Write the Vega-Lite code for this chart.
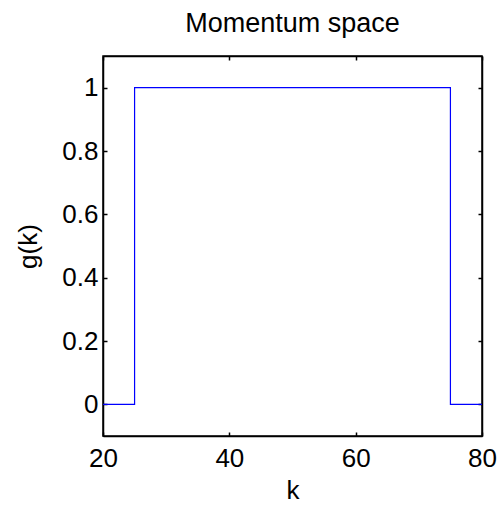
{
  "$schema": "https://vega.github.io/schema/vega-lite/v6.json",
  "width": 379,
  "height": 380,
  "autosize": "none",
  "padding": {"left": 103, "top": 56, "right": 19, "bottom": 71},
  "background": "white",
  "title": {"text": "Momentum space", "fontSize": 27, "font": "Liberation Sans", "fontWeight": "normal", "color": "#000000", "offset": 17},
  "config": {
    "view": {"stroke": "#000000", "strokeWidth": 1.5},
    "axis": {"grid": false, "domainColor": "#000000", "tickColor": "#000000", "labelFont": "Liberation Sans", "labelFontSize": 26, "labelColor": "#000000", "labelFlush": false, "labelOverlap": false, "titleFont": "Liberation Sans", "titleFontSize": 26, "titleFontWeight": "normal", "titleColor": "#000000", "tickSize": -4, "tickWidth": 1.5, "domainWidth": 1.5}
  },
  "data": {"values": [
    {"i": 0, "k": 20, "g": 0},
    {"i": 1, "k": 25, "g": 0},
    {"i": 2, "k": 25, "g": 1},
    {"i": 3, "k": 75, "g": 1},
    {"i": 4, "k": 75, "g": 0},
    {"i": 5, "k": 80, "g": 0}
  ]},
  "layer": [
    {
      "mark": {"type": "line", "color": "#0000ff", "strokeWidth": 1.2, "clip": true},
      "encoding": {
        "x": {"field": "k", "type": "quantitative", "scale": {"domain": [20, 80], "nice": false, "zero": false}, "axis": {"values": [20, 40, 60, 80], "format": "d", "title": "k", "labelPadding": 13, "titlePadding": 6}},
        "y": {"field": "g", "type": "quantitative", "scale": {"domain": [-0.1, 1.1], "nice": false, "zero": false}, "axis": {"values": [0, 0.2, 0.4, 0.6, 0.8, 1], "format": "~r", "title": "g(k)", "labelPadding": 9, "titlePadding": 20}},
        "order": {"field": "i"}
      }
    },
    {
      "mark": {"type": "line", "opacity": 0},
      "encoding": {
        "x": {"field": "k", "type": "quantitative", "scale": {"domain": [20, 80], "nice": false, "zero": false}, "axis": {"orient": "top", "values": [20, 40, 60, 80], "labels": false, "title": null}},
        "y": {"field": "g", "type": "quantitative", "scale": {"domain": [-0.1, 1.1], "nice": false, "zero": false}, "axis": {"orient": "right", "values": [0, 0.2, 0.4, 0.6, 0.8, 1], "labels": false, "title": null}},
        "order": {"field": "i"}
      }
    }
  ],
  "resolve": {"scale": {"x": "independent", "y": "independent"}}
}
